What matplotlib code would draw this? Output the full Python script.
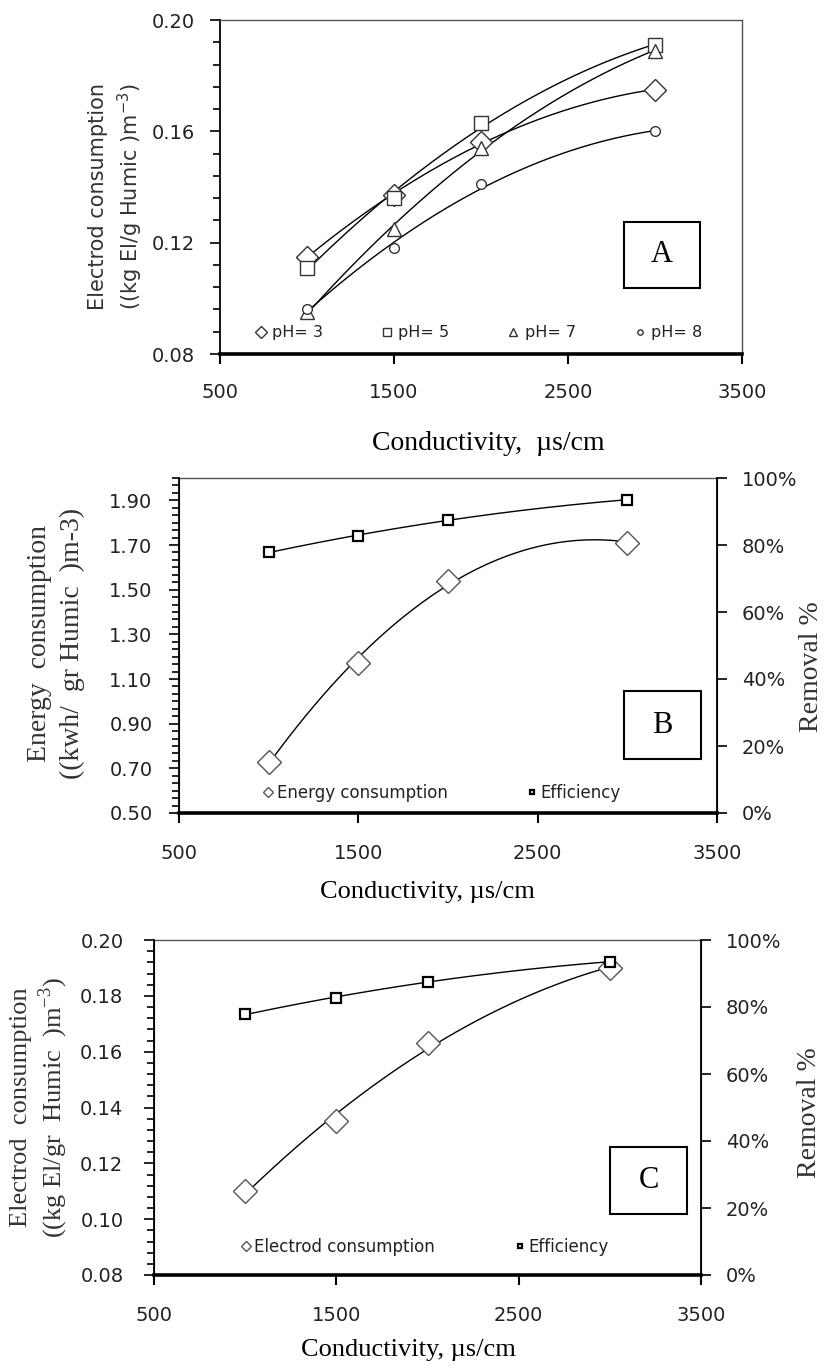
import numpy as np
import matplotlib
matplotlib.use("Agg")
import matplotlib.pyplot as plt
from matplotlib.ticker import MultipleLocator, FixedLocator, PercentFormatter, FormatStrFormatter
from matplotlib.patches import Rectangle

# ---- data ----
conductivity = [1000, 1500, 2000, 3000]

# panel A: electrode consumption per pH
ph3 = [0.115, 0.137, 0.156, 0.175]
ph5 = [0.111, 0.136, 0.163, 0.191]
ph7 = [0.095, 0.125, 0.154, 0.189]
ph8 = [0.096, 0.118, 0.141, 0.160]

# panel B: energy consumption + removal efficiency
energy = [0.73, 1.17, 1.54, 1.71]
eff_b = [77.8, 82.8, 87.5, 93.5]

# panel C: electrode consumption + removal efficiency
electrod = [0.110, 0.135, 0.163, 0.190]
eff_c = [77.8, 82.8, 87.6, 93.5]

x_ticks = [500, 1500, 2500, 3500]

W, H = 827, 1366
fig = plt.figure(figsize=(W / 100, H / 100), dpi=100)
SERIF = "Liberation Serif"
TXT = "#222222"


def axes_px(left, top, right, bottom):
    return fig.add_axes([left / W, 1 - bottom / H, (right - left) / W, (bottom - top) / H])


def trend(ax, x, y, deg=2, **kw):
    c = np.polyfit(x, y, deg)
    xs = np.linspace(min(x), max(x), 200)
    ax.plot(xs, np.polyval(c, xs), color="black", lw=1.0, zorder=2, **kw)


def style_axes(ax, ypad, xpad):
    ax.set_xlim(500, 3500)
    ax.xaxis.set_major_locator(FixedLocator(x_ticks))
    ax.tick_params(axis="x", direction="out", length=7, width=1.5, pad=xpad,
                   labelsize=14, labelcolor=TXT)
    ax.tick_params(axis="y", which="major", direction="out", length=7, width=1.2,
                   pad=ypad, labelsize=14, labelcolor=TXT)
    ax.tick_params(axis="y", which="minor", direction="out", length=5, width=1.2)
    ax.tick_params(top=False)
    ax.spines["left"].set_linewidth(1.3)
    ax.spines["bottom"].set_linewidth(2.6)
    ax.spines["top"].set_color("#555555")
    ax.spines["top"].set_linewidth(1.0)


def letter_box(ax, x0, y0, x1, y1, s):
    ax.add_patch(Rectangle((x0, y0), x1 - x0, y1 - y0, transform=ax.transAxes,
                           fill=False, ec="black", lw=1.5, zorder=5))
    ax.text((x0 + x1) / 2, (y0 + y1) / 2, s, transform=ax.transAxes, ha="center",
            va="center", fontsize=22, family=SERIF, zorder=6)


# ================= Panel A =================
axA = axes_px(220, 20, 742, 354)
style_axes(axA, ypad=11, xpad=14)
axA.set_ylim(0.08, 0.20)
axA.yaxis.set_major_locator(MultipleLocator(0.04))
axA.yaxis.set_minor_locator(MultipleLocator(0.008))
axA.yaxis.set_major_formatter(FormatStrFormatter("%.2f"))
axA.spines["right"].set_color("#555555")
axA.spines["right"].set_linewidth(1.0)

series_a = [(ph3, "D", 11, "pH= 3"), (ph5, "s", 10, "pH= 5"),
            (ph7, "^", 10, "pH= 7"), (ph8, "o", 7, "pH= 8")]
handles = []
for y, m, ms, lab in series_a:
    trend(axA, conductivity, y)
    h, = axA.plot(conductivity, y, ls="none", marker=m, ms=ms, mfc="white",
                  mec="#333333", mew=1.0, label=lab, zorder=3)
    handles.append(h)
axA.legend(handles=handles, loc="center", bbox_to_anchor=(0.495, 0.063), ncol=4,
           frameon=False, fontsize=11.5, markerscale=0.55, handlelength=0.8,
           handletextpad=0.3, columnspacing=3.6, labelcolor=TXT)
letter_box(axA, 0.774, 0.198, 0.920, 0.395, "A")

fig.text(98 / W, 1 - 197 / H, "Electrod consumption", rotation=90, ha="center",
         va="center", fontsize=15, color="#333333")
fig.text(130 / W, 1 - 197 / H, "((kg El/g Humic )m$^{\\mathregular{-3}}$)", rotation=90,
         ha="center", va="center", fontsize=15, color="#333333")
fig.text(488 / W, 1 - 443 / H, "Conductivity,  µs/cm", ha="center", va="center",
         fontsize=20, family=SERIF)

# ================= Panel B =================
axB = axes_px(179, 478, 717, 813)
style_axes(axB, ypad=12, xpad=15)
axB.set_ylim(0.50, 2.00)
axB.yaxis.set_major_locator(FixedLocator(np.arange(0.5, 1.95, 0.2)))
axB.yaxis.set_minor_locator(MultipleLocator(0.2 / 6))
axB.yaxis.set_major_formatter(FormatStrFormatter("%.2f"))
axB2 = axB.twinx()
axB2.set_ylim(0, 100)
axB2.yaxis.set_major_locator(MultipleLocator(20))
axB2.yaxis.set_major_formatter(PercentFormatter(decimals=0))
axB2.tick_params(axis="y", direction="out", length=7, width=1.2, pad=11,
                 labelsize=14, labelcolor=TXT)
axB2.spines["right"].set_linewidth(1.3)
axB2.spines["top"].set_visible(False)

trend(axB, conductivity, energy)
hB1, = axB.plot(conductivity, energy, ls="none", marker="D", ms=12, mfc="white",
                mec="#555555", mew=1.0, label="Energy consumption", zorder=3)
trend(axB2, conductivity, eff_b)
hB2, = axB2.plot(conductivity, eff_b, ls="none", marker="s", ms=7, mfc="white",
                 mec="black", mew=1.6, label="Efficiency", zorder=3)
axB2.legend(handles=[hB1, hB2], loc="center", bbox_to_anchor=(0.489, 0.06), ncol=2,
            frameon=False, fontsize=12, markerscale=0.45, handlelength=0.6,
            handletextpad=0.2, columnspacing=4.8, labelcolor=TXT)
letter_box(axB2, 0.827, 0.161, 0.970, 0.364, "B")

fig.text(40 / W, 1 - 643 / H, "Energy  consumption", rotation=90, ha="center",
         va="center", fontsize=20, family=SERIF, color="#333333")
fig.text(72 / W, 1 - 643 / H, "((kwh/  gr Humic  )m-3)", rotation=90, ha="center",
         va="center", fontsize=20, family=SERIF, color="#333333")
fig.text(811 / W, 1 - 667 / H, "Removal %", rotation=90, ha="center", va="center",
         fontsize=20, family=SERIF, color="#333333")
fig.text(427 / W, 1 - 892 / H, "Conductivity, µs/cm", ha="center", va="center",
         fontsize=19, family=SERIF)

# ================= Panel C =================
axC = axes_px(154, 940, 701, 1275)
style_axes(axC, ypad=15, xpad=15)
axC.set_ylim(0.08, 0.20)
axC.yaxis.set_major_locator(MultipleLocator(0.02))
axC.yaxis.set_minor_locator(MultipleLocator(0.004))
axC.yaxis.set_major_formatter(FormatStrFormatter("%.2f"))
axC2 = axC.twinx()
axC2.set_ylim(0, 100)
axC2.yaxis.set_major_locator(MultipleLocator(20))
axC2.yaxis.set_major_formatter(PercentFormatter(decimals=0))
axC2.tick_params(axis="y", direction="out", length=7, width=1.2, pad=11,
                 labelsize=14, labelcolor=TXT)
axC2.spines["right"].set_linewidth(1.3)
axC2.spines["top"].set_visible(False)

trend(axC, conductivity, electrod)
hC1, = axC.plot(conductivity, electrod, ls="none", marker="D", ms=12, mfc="white",
                mec="#555555", mew=1.0, label="Electrod consumption", zorder=3)
trend(axC2, conductivity, eff_c)
hC2, = axC2.plot(conductivity, eff_c, ls="none", marker="s", ms=7, mfc="white",
                 mec="black", mew=1.6, label="Efficiency", zorder=3)
axC2.legend(handles=[hC1, hC2], loc="center", bbox_to_anchor=(0.495, 0.084), ncol=2,
            frameon=False, fontsize=12, markerscale=0.45, handlelength=0.6,
            handletextpad=0.2, columnspacing=4.8, labelcolor=TXT)
letter_box(axC2, 0.834, 0.182, 0.974, 0.382, "C")

fig.text(21 / W, 1 - 1107 / H, "Electrod  consumption", rotation=90, ha="center",
         va="center", fontsize=19, family=SERIF, color="#333333")
fig.text(53 / W, 1 - 1107 / H, "((kg El/gr  Humic  )m$^{\\mathregular{-3}}$)", rotation=90,
         ha="center", va="center", fontsize=19, family=SERIF, color="#333333")
fig.text(810 / W, 1 - 1113 / H, "Removal %", rotation=90, ha="center", va="center",
         fontsize=20, family=SERIF, color="#333333")
fig.text(408 / W, 1 - 1350 / H, "Conductivity, µs/cm", ha="center", va="center",
         fontsize=19, family=SERIF)

fig.savefig("out.png", dpi=100)
